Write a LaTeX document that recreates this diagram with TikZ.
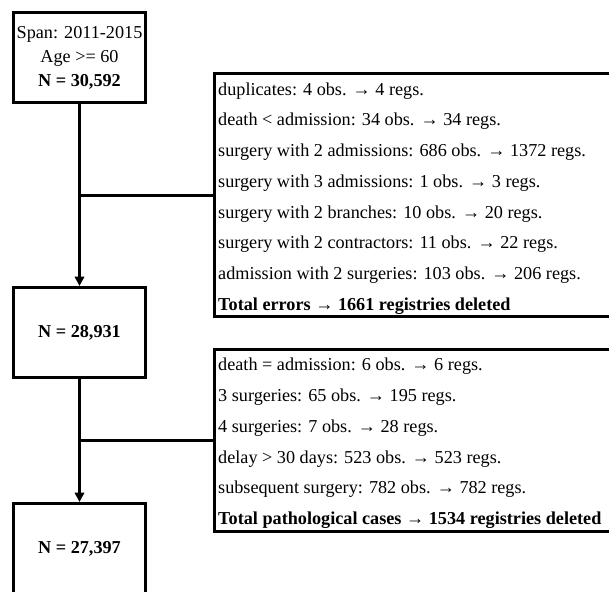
\documentclass[tikz,border=0pt]{standalone}
\usepackage{fontspec}
\setmainfont{Liberation Serif}
\usetikzlibrary{arrows.meta}
\tikzset{
  mainbox/.style={draw, line width=3pt, minimum width=132pt, minimum height=90pt, inner sep=0pt, align=center, font=\fontsize{18.2}{24}\selectfont},
  listbox/.style={draw, line width=3pt, inner sep=0pt, minimum width=405.5pt},
  listtext/.style={inner sep=0pt, align=left, anchor=base west, font=\fontsize{18.2}{30.75}\selectfont},
  flow/.style={line width=3pt, -{Triangle[width=9.5pt,length=9.5pt]}},
  link/.style={line width=3pt},
}
\begin{document}
\begin{tikzpicture}[x=1pt, y=-1pt]
\useasboundingbox (0,0) rectangle (609,591);
\clip (0,0) rectangle (609,591);
\fill[white] (0,0) rectangle (609,591);

\node[mainbox] (b1) at (79.5,57.5) {Span: 2011-2015\\Age >= 60\\\textbf{N = 30,592}};
\node[mainbox] (b2) at (79.5,332.5) {\textbf{N = 28,931}};
\node[mainbox] (b3) at (79.5,548.5) {\textbf{N = 27,397}};

\node[listbox, minimum height=243pt] (e1) at (417.25,195) {};
\node[listbox, minimum height=182pt] (e2) at (417.25,440.5) {};

\node[listtext] (t1) at (218,310.25) {duplicates: 4 obs. → 4 regs.\\
death < admission: 34 obs. → 34 regs.\\
surgery with 2 admissions: 686 obs. → 1372 regs.\\
surgery with 3 admissions: 1 obs. → 3 regs.\\
surgery with 2 branches: 10 obs. → 20 regs.\\
surgery with 2 contractors: 11 obs. → 22 regs.\\
admission with 2 surgeries: 103 obs. → 206 regs.\\
\textbf{Total errors → 1661 registries deleted}};

\node[listtext] (t2) at (218,524.5) {death = admission: 6 obs. → 6 regs.\\
3 surgeries: 65 obs. → 195 regs.\\
4 surgeries: 7 obs. → 28 regs.\\
delay > 30 days: 523 obs. → 523 regs.\\
subsequent surgery: 782 obs. → 782 regs.\\
\textbf{Total pathological cases → 1534 registries deleted}};

\draw[flow] (b1) -- (b2);
\draw[flow] (b2) -- (b3);
\draw[link] (b1.south |- e1.west) -- (e1.west);
\draw[link] (b2.south |- e2.west) -- (e2.west);
\end{tikzpicture}
\end{document}
